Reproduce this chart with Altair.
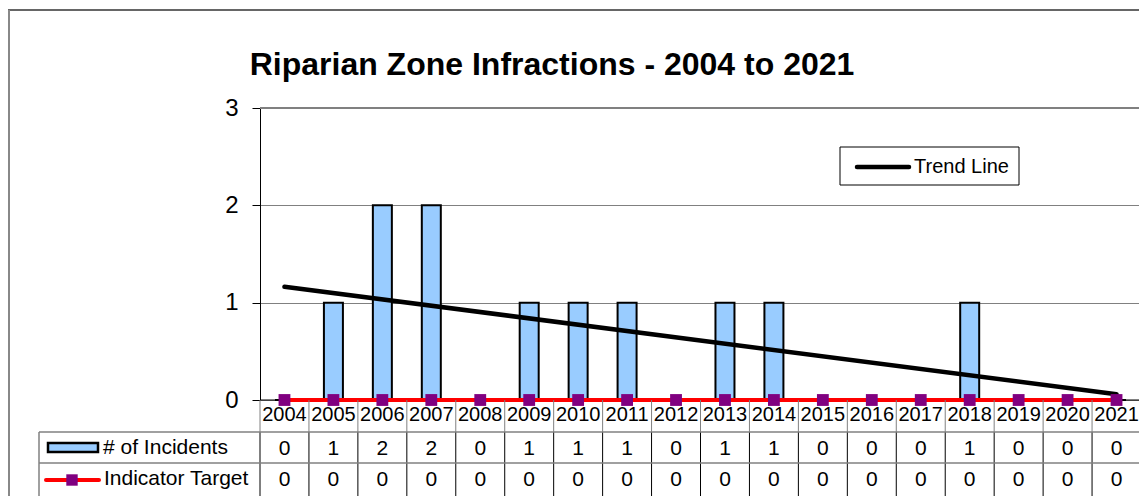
import altair as alt
import pandas as pd

# ---------------- data ----------------
years = list(range(2004, 2022))
year_labels = [str(y) for y in years]
incidents = [0, 1, 2, 2, 0, 1, 1, 1, 0, 1, 1, 0, 0, 0, 1, 0, 0, 0]
target = [0] * 18
title_text = "Riparian Zone Infractions - 2004 to 2021"
series_names = ["# of Incidents", "Indicator Target"]
trend_name = "Trend Line"
y_ticks = [0, 1, 2, 3]

# ---------------- layout ----------------
W = 881
H = 292
FONT = "Liberation Sans"
BLUE = "#99CCFF"
PURPLE = "#800080"
RED = "#FF0000"
GRID = "#808080"

df = pd.DataFrame({"yr": years, "label": year_labels,
                   "incidents": incidents, "target": target})
one = pd.DataFrame({"k": [0]})

xs = alt.Scale(type="band", paddingInner=0, paddingOuter=0)
ys = alt.Scale(domain=[0, 3], nice=False)


def X(bp=0.5):
    return alt.X("yr:O", scale=xs, axis=None, bandPosition=bp)


base = alt.Chart(df)

bars = base.mark_bar(size=19, fill=BLUE, stroke="black", strokeWidth=2).encode(
    x=alt.X("yr:O", scale=xs, axis=None),
    y=alt.Y("incidents:Q", scale=ys,
            axis=alt.Axis(values=y_ticks, title=None, grid=True, gridColor=GRID,
                          gridWidth=1, domainColor="black", tickColor="black",
                          tickSize=8, labelPadding=14, labelFontSize=24,
                          labelColor="black", labelFont=FONT, format="d")),
)

top_border = alt.Chart(one).mark_rule(color=GRID, strokeWidth=2).encode(
    x=alt.value(0), x2=alt.value(W + 20), y=alt.value(0))

trend = base.transform_regression("yr", "incidents").mark_line(
    color="black", strokeWidth=4.5, strokeCap="round").encode(
    x=X(), y=alt.Y("incidents:Q", scale=ys))

target_line = base.mark_line(color=RED, strokeWidth=4).encode(
    x=X(), y=alt.Y("target:Q", scale=ys))
target_pts = base.mark_square(size=140, color=PURPLE, opacity=1).encode(
    x=X(), y=alt.Y("target:Q", scale=ys))

# x axis base line
x_base = alt.Chart(one).mark_rule(color="black", strokeWidth=1).encode(
    x=alt.value(0), x2=alt.value(W + 20), y=alt.value(H))

# ---------------- data table ----------------
year_txt = base.mark_text(font=FONT, fontSize=20, baseline="middle", color="black").encode(
    x=X(), y=alt.value(307), text="label:N")
inc_txt = base.mark_text(font=FONT, fontSize=21, baseline="middle", color="black").encode(
    x=X(), y=alt.value(341), text="incidents:Q")
tgt_txt = base.mark_text(font=FONT, fontSize=21, baseline="middle", color="black").encode(
    x=X(), y=alt.value(372), text="target:Q")

v_year = base.mark_rule(color=GRID, strokeWidth=1).encode(
    x=X(0), y=alt.value(H), y2=alt.value(324))
v_vals = base.mark_rule(color="black", strokeWidth=1).encode(
    x=X(0), y=alt.value(324), y2=alt.value(400))
h1 = alt.Chart(one).mark_rule(color=GRID, strokeWidth=1.5).encode(
    x=alt.value(-221), x2=alt.value(W + 20), y=alt.value(324))
h2 = alt.Chart(one).mark_rule(color=GRID, strokeWidth=1.5).encode(
    x=alt.value(-221), x2=alt.value(W + 20), y=alt.value(355))
v_left = alt.Chart(one).mark_rule(color=GRID, strokeWidth=1.5).encode(
    x=alt.value(-221), y=alt.value(324), y2=alt.value(400))

key_bar = alt.Chart(one).mark_rect(fill=BLUE, stroke="black", strokeWidth=2.5).encode(
    x=alt.value(-212), x2=alt.value(-162), y=alt.value(335), y2=alt.value(344))
key_red = alt.Chart(one).mark_rule(color=RED, strokeWidth=4, strokeCap="round").encode(
    x=alt.value(-214), x2=alt.value(-161), y=alt.value(372))
key_pt = alt.Chart(one).mark_square(size=130, color=PURPLE, opacity=1).encode(
    x=alt.value(-188), y=alt.value(372))

lab1 = alt.Chart(pd.DataFrame({"n": [series_names[0]]})).mark_text(
    font=FONT, fontSize=21, align="left", baseline="middle", color="black").encode(
    x=alt.value(-157), y=alt.value(340), text="n:N")
lab2 = alt.Chart(pd.DataFrame({"n": [series_names[1]]})).mark_text(
    font=FONT, fontSize=21, align="left", baseline="middle", color="black").encode(
    x=alt.value(-156), y=alt.value(371), text="n:N")

# ---------------- legend for trend line ----------------
leg_box = alt.Chart(one).mark_rect(fill="white", stroke="black", strokeWidth=1).encode(
    x=alt.value(580), x2=alt.value(759), y=alt.value(39), y2=alt.value(77))
leg_line = alt.Chart(one).mark_rule(color="black", strokeWidth=4.5, strokeCap="round").encode(
    x=alt.value(597), x2=alt.value(649), y=alt.value(59))
leg_txt = alt.Chart(pd.DataFrame({"n": [trend_name]})).mark_text(
    font=FONT, fontSize=20, align="left", baseline="middle", color="black").encode(
    x=alt.value(654), y=alt.value(59), text="n:N")

# ---------------- title & frame ----------------
title = alt.Chart(pd.DataFrame({"t": [title_text]})).mark_text(
    font=FONT, fontSize=32, fontWeight="bold", align="center",
    baseline="alphabetic", color="black").encode(
    x=alt.value(292), y=alt.value(-33), text="t:N")

frame_top = alt.Chart(one).mark_rule(color="#333333", strokeWidth=1.5).encode(
    x=alt.value(-252), x2=alt.value(W + 20), y=alt.value(-98))
frame_left = alt.Chart(one).mark_rule(color="#888888", strokeWidth=2).encode(
    x=alt.value(-251), y=alt.value(-98), y2=alt.value(400))

chart = alt.layer(
    frame_top, frame_left, title,
    bars, top_border, x_base, trend, target_line, target_pts,
    leg_box, leg_line, leg_txt,
    v_year, v_vals, h1, h2, v_left,
    year_txt, inc_txt, tgt_txt,
    key_bar, key_red, key_pt, lab1, lab2,
).properties(
    width=W, height=H,
    autosize=alt.AutoSizeParams(type="none"),
    padding={"left": 252, "top": 100, "right": -2, "bottom": 96},
).configure_view(stroke=None)

chart.save("out.html", embed_options={"renderer": "svg", "actions": False})
